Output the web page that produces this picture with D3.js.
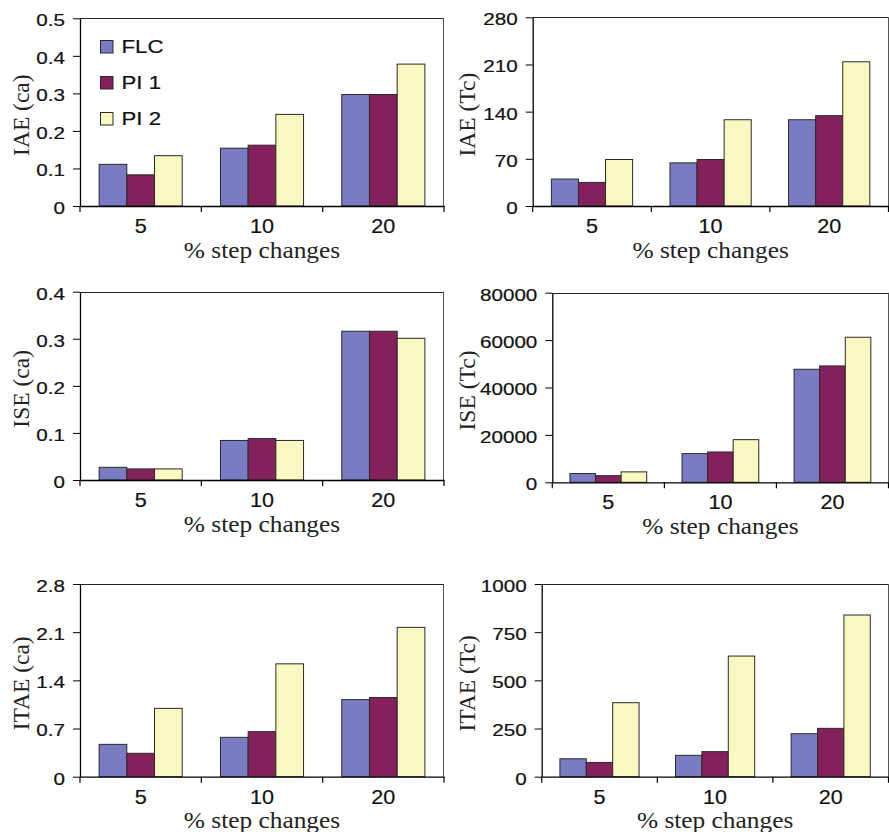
<!DOCTYPE html>
<html><head><meta charset="utf-8">
<script src="https://cdn.jsdelivr.net/npm/d3@7"></script>
<style>body{margin:0;background:#fff}</style></head>
<body><svg id="c" width="889" height="832"></svg>
<script>
// ---- data ----
const categories = ["5", "10", "20"];
const seriesNames = ["FLC", "PI 1", "PI 2"];
const seriesColors = ["#797cc3", "#84205c", "#f9f8c0"];

// values per series: [FLC, PI 1, PI 2], each over categories 5, 10, 20
const iaeCa  = [[0.111, 0.154, 0.297], [0.083, 0.162, 0.297], [0.134, 0.244, 0.378]];
const iaeTc  = [[40, 64, 128], [35, 69, 134], [69, 128, 214]];
const iseCa  = [[0.027, 0.084, 0.316], [0.0235, 0.088, 0.316], [0.0235, 0.084, 0.301]];
const iseTc  = [[3700, 12100, 47700], [2800, 12800, 49100], [4400, 18000, 61200]];
const itaeCa = [[0.47, 0.572, 1.12], [0.34, 0.654, 1.15], [0.993, 1.64, 2.17]];
const itaeTc = [[93, 111, 223], [74, 130, 251], [384, 626, 839]];

const iaeCaTicks  = [0, 0.1, 0.2, 0.3, 0.4, 0.5];
const iaeTcTicks  = [0, 70, 140, 210, 280];
const iseCaTicks  = [0, 0.1, 0.2, 0.3, 0.4];
const iseTcTicks  = [0, 20000, 40000, 60000, 80000];
const itaeCaTicks = [0, 0.7, 1.4, 2.1, 2.8];
const itaeTcTicks = [0, 250, 500, 750, 1000];

const yTitles = ["IAE (ca)", "IAE (Tc)", "ISE (ca)", "ISE (Tc)", "ITAE (ca)", "ITAE (Tc)"];
const xTitle = "% step changes";

// ---- layout ----
const panels = [
  {data: iaeCa,  ticks: iaeCaTicks,  title: yTitles[0], l: 80,    r: 444,   t: 18.3,  b: 206,   tx: 21,  legend: true},
  {data: iaeTc,  ticks: iaeTcTicks,  title: yTitles[1], l: 532.7, r: 888.5, t: 17.3,  b: 206,   tx: 467},
  {data: iseCa,  ticks: iseCaTicks,  title: yTitles[2], l: 80,    r: 444,   t: 291.7, b: 480,   tx: 21},
  {data: iseTc,  ticks: iseTcTicks,  title: yTitles[3], l: 552.3, r: 888.5, t: 292.7, b: 482.3, tx: 467},
  {data: itaeCa, ticks: itaeCaTicks, title: yTitles[4], l: 80,    r: 444,   t: 584,   b: 776.7, tx: 21},
  {data: itaeTc, ticks: itaeTcTicks, title: yTitles[5], l: 541.7, r: 888.5, t: 584,   b: 776.7, tx: 467}
];

const SANS = "'Liberation Sans', Arial, sans-serif";
const SERIF = "'Liberation Serif', 'Times New Roman', serif";
const svg = d3.select("#c");

panels.forEach(p => {
  const g = svg.append("g");
  const x0 = d3.scaleBand().domain(categories).range([p.l, p.r]).padding(0);
  const x1 = d3.scaleBand().domain(d3.range(seriesNames.length)).range([0, x0.bandwidth()])
    .paddingInner(0).paddingOuter(0.69);
  const y = d3.scaleLinear().domain([p.ticks[0], p.ticks[p.ticks.length - 1]]).range([p.b, p.t]);

  // top and right border
  g.append("line").attr("x1", p.l).attr("x2", p.r).attr("y1", Math.round(p.t) + 0.5).attr("y2", Math.round(p.t) + 0.5)
    .attr("stroke", "#222").attr("stroke-width", 1);
  g.append("line").attr("x1", Math.round(p.r) - 0.5).attr("x2", Math.round(p.r) - 0.5).attr("y1", p.t).attr("y2", p.b)
    .attr("stroke", "#555").attr("stroke-width", 1);

  // bars
  p.data.forEach((vals, si) => {
    g.selectAll(null).data(vals).enter().append("rect")
      .attr("x", (d, ci) => x0(categories[ci]) + x1(si))
      .attr("y", d => y(d))
      .attr("width", x1.bandwidth())
      .attr("height", d => y(0) - y(d))
      .attr("fill", seriesColors[si])
      .attr("stroke", "#2a2a2a").attr("stroke-width", 1);
  });

  // y axis
  const fmt = v => String(+v.toFixed(3));
  const sy = 1.25;
  const ya = g.append("g").attr("transform", `translate(${p.l},0)`)
    .call(d3.axisLeft(y).tickValues(p.ticks).tickFormat(fmt).tickSize(7).tickSizeOuter(0));
  ya.select(".domain").attr("stroke", "#000").attr("stroke-width", 1.3);
  ya.selectAll(".tick line").attr("stroke", "#000").attr("stroke-width", 1);
  ya.selectAll(".tick text")
    .attr("x", -15 / sy).attr("dy", "0.45em")
    .attr("transform", `scale(${sy},1)`)
    .attr("font-family", SANS).attr("font-size", 16.5).attr("fill", "#111")
    .attr("stroke", "#111").attr("stroke-width", 0.2);

  // x axis
  const xa = g.append("g").attr("transform", `translate(0,${p.b})`)
    .call(d3.axisBottom(x0).tickSize(0).tickSizeOuter(0));
  xa.select(".domain").attr("stroke", "#000").attr("stroke-width", 1.3);
  const sx = 1.08;
  xa.selectAll(".tick text")
    .attr("y", 0).attr("dy", 0)
    .attr("transform", `translate(0,27) scale(${sx},1)`)
    .attr("font-family", SANS).attr("font-size", 20).attr("fill", "#111")
    .attr("stroke", "#111").attr("stroke-width", 0.2);
  // category boundary ticks
  const edges = categories.map(c => x0(c)).concat([x0.range()[1]]);
  g.selectAll(null).data(edges).enter().append("line")
    .attr("x1", d => d).attr("x2", d => d)
    .attr("y1", p.b).attr("y2", p.b + 6)
    .attr("stroke", "#000").attr("stroke-width", 1.2);

  // x title
  g.append("text")
    .attr("transform", `translate(${(p.l + p.r) / 2},${p.b + 51.5}) scale(1.08,1)`)
    .attr("text-anchor", "middle")
    .attr("font-family", SERIF).attr("font-size", 23.5).attr("fill", "#222")
    .text(xTitle);

  // y title
  g.append("text")
    .attr("transform", `translate(${p.tx + 8},${(p.t + p.b) / 2 + 3}) rotate(-90)`)
    .attr("text-anchor", "middle")
    .attr("font-family", SERIF).attr("font-size", 23.5).attr("fill", "#222")
    .text(p.title);

  // legend
  if (p.legend) {
    const lg = g.append("g");
    seriesNames.forEach((name, i) => {
      const yy = 40 + i * 36;
      lg.append("rect").attr("x", 100.5).attr("y", yy + 0.5).attr("width", 12.5).attr("height", 12.5)
        .attr("fill", seriesColors[i]).attr("stroke", "#2a2a2a").attr("stroke-width", 1);
      lg.append("text")
        .attr("transform", `translate(121.5,${yy + 13.3}) scale(1.2,1)`)
        .attr("font-family", SANS).attr("font-size", 18.5).attr("fill", "#111")
        .attr("stroke", "#111").attr("stroke-width", 0.2)
        .text(name);
    });
  }
});
</script>
</body></html>
